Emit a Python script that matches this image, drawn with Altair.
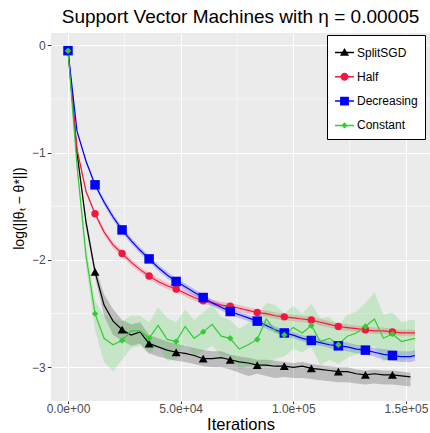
import altair as alt
import pandas as pd

# Iteration grid (every 4000 iterations); three of the runs have one extra point at 154000
iters = list(range(0, 152001, 4000)) + [154000]

series_names = ["SplitSGD", "Half", "Decreasing", "Constant"]
series_colors = ["#000000", "#F5163F", "#0000FF", "#32CD32"]
band_opacity = [0.3, 0.2, 0.2, 0.2]

split_mean = [-0.05, -1.00, -1.65, -2.11, -2.42, -2.57, -2.65, -2.70, -2.67, -2.78,
              -2.81, -2.84, -2.86, -2.87, -2.89, -2.92, -2.92, -2.91, -2.93, -2.95,
              -2.96, -2.98, -2.98, -2.99, -2.99, -3.00, -2.99, -3.01, -3.02, -3.03,
              -3.04, -3.04, -3.06, -3.07, -3.06, -3.07, -3.07, -3.08, -3.09]
split_lo = [-0.05, -1.03, -1.70, -2.16, -2.52, -2.70, -2.75, -2.80, -2.78, -2.87,
            -2.90, -2.92, -2.94, -2.95, -2.97, -2.99, -3.00, -3.00, -3.02, -3.05,
            -3.08, -3.06, -3.08, -3.10, -3.09, -3.10, -3.10, -3.11, -3.12, -3.13,
            -3.14, -3.14, -3.15, -3.16, -3.15, -3.16, -3.16, -3.17, -3.18]
split_hi = [-0.05, -0.97, -1.60, -2.06, -2.32, -2.46, -2.56, -2.60, -2.58, -2.70,
            -2.73, -2.76, -2.78, -2.80, -2.82, -2.84, -2.85, -2.85, -2.88, -2.90,
            -2.91, -2.93, -2.93, -2.94, -2.95, -2.96, -2.95, -2.97, -2.98, -2.99,
            -3.00, -3.00, -3.02, -3.03, -3.02, -3.03, -3.03, -3.04, -3.05]

half_mean = [-0.05, -0.97, -1.36, -1.57, -1.74, -1.86, -1.94, -2.02, -2.09, -2.15,
             -2.20, -2.24, -2.27, -2.31, -2.35, -2.38, -2.40, -2.42, -2.43, -2.45,
             -2.47, -2.49, -2.50, -2.52, -2.53, -2.54, -2.55, -2.56, -2.58, -2.60,
             -2.62, -2.63, -2.64, -2.65, -2.66, -2.66, -2.67, -2.68, -2.68, -2.68]
half_lo = [-0.05, -0.99, -1.38, -1.59, -1.77, -1.89, -1.97, -2.05, -2.12, -2.18,
           -2.23, -2.27, -2.30, -2.34, -2.38, -2.41, -2.43, -2.45, -2.46, -2.48,
           -2.50, -2.52, -2.53, -2.55, -2.56, -2.57, -2.58, -2.59, -2.61, -2.63,
           -2.65, -2.66, -2.67, -2.68, -2.69, -2.69, -2.70, -2.71, -2.71, -2.71]
half_hi = [-0.05, -0.95, -1.34, -1.55, -1.71, -1.83, -1.91, -1.99, -2.06, -2.12,
           -2.17, -2.21, -2.24, -2.28, -2.32, -2.35, -2.37, -2.39, -2.40, -2.42,
           -2.44, -2.46, -2.47, -2.49, -2.50, -2.51, -2.52, -2.53, -2.55, -2.57,
           -2.59, -2.60, -2.61, -2.62, -2.63, -2.63, -2.64, -2.65, -2.65, -2.65]

decr_mean = [-0.05, -0.80, -1.08, -1.30, -1.46, -1.60, -1.72, -1.82, -1.91, -1.99,
             -2.07, -2.14, -2.20, -2.25, -2.30, -2.35, -2.40, -2.44, -2.48, -2.51,
             -2.54, -2.57, -2.61, -2.65, -2.68, -2.70, -2.73, -2.75, -2.77, -2.79,
             -2.80, -2.81, -2.83, -2.84, -2.86, -2.88, -2.89, -2.90, -2.90, -2.89]
decr_lo = [-0.05, -0.82, -1.10, -1.32, -1.49, -1.63, -1.75, -1.85, -1.94, -2.02,
           -2.10, -2.17, -2.23, -2.28, -2.33, -2.38, -2.43, -2.47, -2.51, -2.54,
           -2.57, -2.60, -2.64, -2.68, -2.71, -2.73, -2.76, -2.78, -2.80, -2.82,
           -2.84, -2.85, -2.87, -2.88, -2.90, -2.93, -2.94, -2.95, -2.95, -2.94]
decr_hi = [-0.05, -0.78, -1.06, -1.28, -1.43, -1.57, -1.69, -1.79, -1.88, -1.96,
           -2.04, -2.11, -2.17, -2.22, -2.27, -2.32, -2.37, -2.41, -2.45, -2.48,
           -2.51, -2.54, -2.58, -2.62, -2.65, -2.67, -2.70, -2.72, -2.74, -2.76,
           -2.76, -2.77, -2.79, -2.80, -2.82, -2.83, -2.84, -2.85, -2.85, -2.84]

const_mean = [-0.05, -1.12, -1.96, -2.50, -2.73, -2.79, -2.75, -2.66, -2.66, -2.73,
              -2.61, -2.74, -2.76, -2.62, -2.73, -2.67, -2.60, -2.71, -2.73, -2.83,
              -2.79, -2.74, -2.55, -2.66, -2.70, -2.63, -2.68, -2.61, -2.76, -2.73,
              -2.79, -2.71, -2.68, -2.62, -2.55, -2.73, -2.69, -2.76, -2.74, -2.73]
const_lo = [-0.05, -1.17, -2.06, -2.65, -2.95, -3.04, -2.93, -2.82, -2.80, -2.88,
            -2.80, -2.94, -2.93, -2.78, -2.90, -2.85, -2.80, -2.89, -2.90, -3.02,
            -2.99, -2.96, -3.00, -2.92, -2.90, -2.83, -2.86, -2.81, -2.98, -2.93,
            -2.97, -2.91, -2.88, -2.84, -2.80, -2.95, -2.89, -2.94, -2.92, -2.90]
const_hi = [-0.05, -1.07, -1.86, -2.38, -2.52, -2.55, -2.57, -2.52, -2.52, -2.58,
            -2.44, -2.54, -2.58, -2.46, -2.56, -2.49, -2.42, -2.53, -2.56, -2.64,
            -2.59, -2.52, -2.40, -2.42, -2.50, -2.43, -2.50, -2.41, -2.54, -2.53,
            -2.61, -2.51, -2.48, -2.40, -2.30, -2.51, -2.49, -2.58, -2.56, -2.56]

runs = [
    ("SplitSGD", split_mean, split_lo, split_hi),
    ("Half", half_mean, half_lo, half_hi),
    ("Decreasing", decr_mean, decr_lo, decr_hi),
    ("Constant", const_mean, const_lo, const_hi),
]

rows = []
for name, mean, lo, hi in runs:
    for it, m, l, h in zip(iters, mean, lo, hi):
        rows.append({"series": name, "iteration": it, "value": m, "lo": l, "hi": h})
df = pd.DataFrame(rows)
marker_df = df[(df["iteration"] % 12000 == 0) & (df["iteration"] <= 144000)]
key_df = df[df["iteration"] == 0]

minor_x = pd.DataFrame({"v": [25000, 75000, 125000]})
minor_y = pd.DataFrame({"v": [-0.5, -1.5, -2.5]})

x_scale = alt.Scale(domain=[-7545, 160675], nice=False, zero=False)
y_scale = alt.Scale(domain=[-3.314, 0.1146], nice=False, zero=False)

# The stroke/fill scales of the drawn marks list the runs in a different order
# than the legend scales, so Vega-Lite keeps their (hidden) legends separate.
draw_order = series_names[::-1]
color_scale = alt.Scale(domain=draw_order, range=series_colors[::-1])
band_order = series_names[1:] + series_names[:1]
band_scale = alt.Scale(domain=band_order, range=band_opacity[1:] + band_opacity[:1])

x_enc = alt.X(
    "iteration:Q", scale=x_scale, title="Iterations",
    axis=alt.Axis(
        values=[0, 50000, 100000, 150000],
        labelExpr="datum.value == 0 ? '0.0e+00' : datum.value == 50000 ? '5.0e+04' : "
                  "datum.value == 100000 ? '1.0e+05' : '1.5e+05'",
        tickSize=2.5, labelPadding=0.3, titlePadding=1.5, titleFontSize=16.5,
    ),
)
y_enc = alt.Y(
    "value:Q", scale=y_scale, title="log(||θₜ − θ*||)",
    axis=alt.Axis(values=[0, -1, -2, -3], format="d", titlePadding=5,
                  titleFontSize=14, titleY=175),
)

# Legend keys: a short line with the run's marker on it
key_line = "M-0.9,-0.07H0.9V0.07H-0.9Z"
key_paths = [
    key_line + "M-0.43,0.32L0,-0.42L0.43,0.32Z",
    key_line + "M-0.38,0A0.38,0.38,0,1,1,0.38,0A0.38,0.38,0,1,1,-0.38,0Z",
    key_line + "M-0.42,-0.42H0.42V0.42H-0.42Z",
    key_line + "M0,-0.3L0.3,0L0,0.3L-0.3,0Z",
]

legend = alt.Legend(
    title=None, orient="none", legendX=276, legendY=2,
    padding=7, fillColor="white", strokeColor="black", cornerRadius=0,
    symbolSize=441, symbolOpacity=1, symbolStrokeWidth=0,
    labelFont="Liberation Sans", labelFontSize=12, labelColor="black",
    labelOffset=2, rowPadding=7.3,
)

minor_v = alt.Chart(minor_x).mark_rule(color="white", strokeWidth=0.6).encode(
    x=alt.X("v:Q", scale=x_scale))
minor_h = alt.Chart(minor_y).mark_rule(color="white", strokeWidth=0.6).encode(
    y=alt.Y("v:Q", scale=y_scale))

bands = alt.Chart(df).mark_area(interpolate="linear").encode(
    x=x_enc,
    y=alt.Y("lo:Q", scale=y_scale),
    y2="hi:Q",
    color=alt.Color("series:N", scale=color_scale, legend=None),
    fillOpacity=alt.FillOpacity("series:N", scale=band_scale, legend=None),
)

lines = alt.Chart(df).mark_line(strokeWidth=1.2).encode(
    x=x_enc, y=y_enc,
    color=alt.Color("series:N", scale=color_scale, legend=None),
)

shape_specs = [("SplitSGD", "triangle-up", 80), ("Half", "circle", 55),
               ("Decreasing", "square", 90), ("Constant", "diamond", 42)]
point_layers = []
for name, shape, size in shape_specs:
    point_layers.append(
        alt.Chart(marker_df).transform_filter(alt.datum.series == name)
        .mark_point(filled=True, shape=shape, size=size, opacity=1)
        .encode(x=x_enc, y=y_enc,
                color=alt.Color("series:N", scale=color_scale, legend=None))
    )

# Zero-sized points that only carry the legend (fill + shape)
keys = alt.Chart(key_df).mark_point(filled=True, size=0).encode(
    x=x_enc, y=y_enc,
    fill=alt.Fill("series:N", scale=alt.Scale(domain=series_names, range=series_colors), legend=legend),
    shape=alt.Shape("series:N", scale=alt.Scale(domain=series_names, range=key_paths), legend=legend),
)

chart = alt.layer(minor_v, minor_h, bands, lines, *point_layers, keys).properties(
    width=379, height=368,
    title=alt.Title("Support Vector Machines with η = 0.00005", fontSize=19,
                    font="Liberation Sans", fontWeight="normal", color="black",
                    anchor="middle", offset=6),
    padding={"left": 51, "top": 33, "right": 0, "bottom": 32},
    autosize=alt.AutoSizeParams(type="none"),
    background="white",
).configure_view(
    fill="#EBEBEB", stroke=None,
).configure_axis(
    grid=True, gridColor="white", gridWidth=1.1, domain=False,
    tickColor="#333333", tickSize=3.7, tickWidth=1,
    labelColor="#4D4D4D", labelFont="Liberation Sans", labelFontSize=12, labelPadding=2,
    titleFont="Liberation Sans", titleFontSize=16.5, titleFontWeight="normal", titleColor="black",
)

chart.save("out.html", embed_options={"renderer": "svg", "actions": False})
